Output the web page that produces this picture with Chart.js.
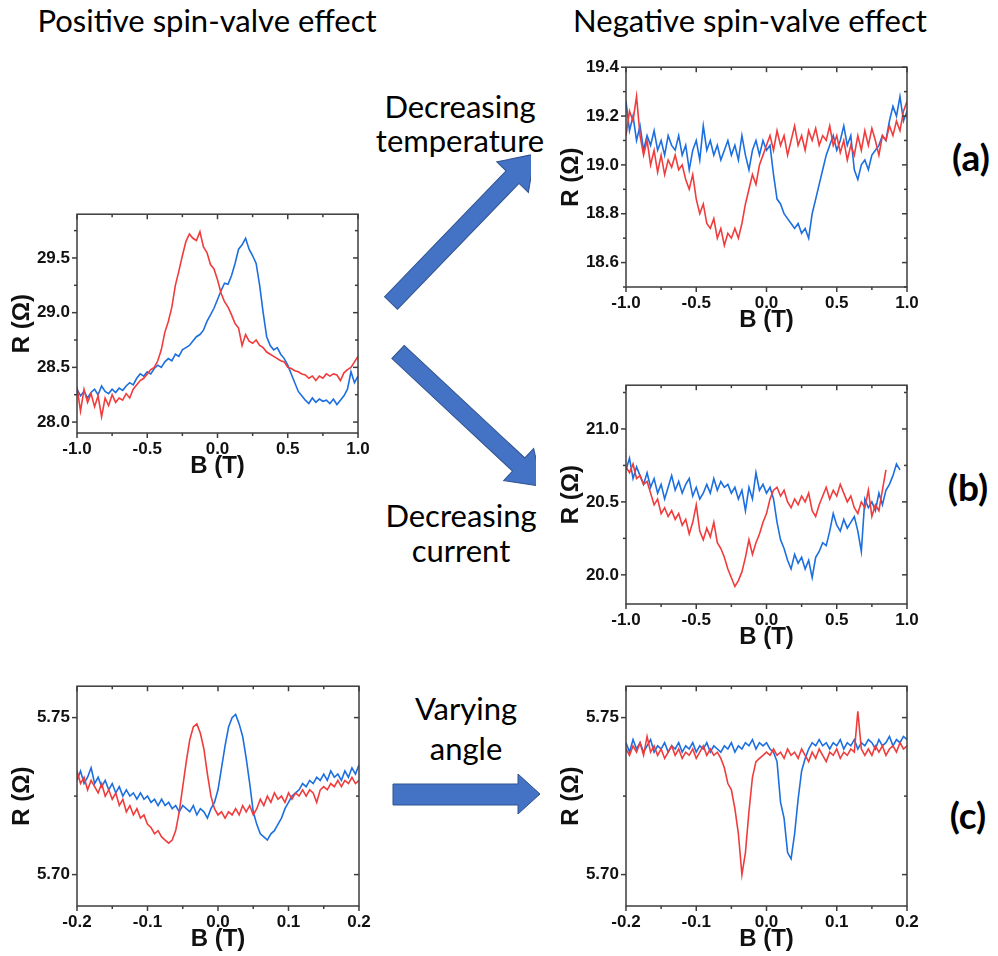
<!DOCTYPE html>
<html>
<head>
<meta charset="utf-8">
<script src="https://cdn.jsdelivr.net/npm/chart.js@4.4.1/dist/chart.umd.min.js"></script>
<style>
  html, body { margin: 0; padding: 0; background: #fff; }
  #page { position: relative; width: 998px; height: 956px; overflow: hidden; background: #fff; }
  canvas { position: absolute; }
  svg { position: absolute; left: 0; top: 0; }
  .txt { position: absolute; width: 400px; text-align: center; white-space: nowrap;
         font-family: Lato, "Open Sans", sans-serif; font-size: 31px; line-height: 31px; color: #000; }
  .tag { position: absolute; width: 80px; text-align: center; font-family: Lato, "Open Sans", sans-serif;
         font-weight: bold; font-size: 37px; line-height: 37px; color: #000; }
</style>
</head>
<body>
<div id="page">
  <svg width="998" height="956">
    <defs>
      <clipPath id="cutUp"><rect x="0" y="0" width="531" height="956"/></clipPath>
      <clipPath id="cutDown"><rect x="0" y="0" width="536" height="956"/></clipPath>
    </defs>
    <g fill="#4472C4" stroke="#2F528F" stroke-width="1">
      <g clip-path="url(#cutUp)">
        <polygon transform="translate(391,303) rotate(-46)" points="0,-9 175,-9 175,-22 207,0 175,22 175,9 0,9"/>
      </g>
      <g clip-path="url(#cutDown)">
        <polygon transform="translate(398,352) rotate(43)" points="0,-9 165,-9 165,-22 197,0 165,22 165,9 0,9"/>
      </g>
      <polygon points="393,784 518,784 518,774 540,794 518,814 518,805 393,805"/>
    </g>
  </svg>

  <div class="txt" style="left:7px; top:5px;">Positive spin-valve effect</div>
  <div class="txt" style="left:550px; top:5px;">Negative spin-valve effect</div>
  <div class="txt" style="left:260px; top:91px;">Decreasing</div>
  <div class="txt" style="left:260px; top:125px;">temperature</div>
  <div class="txt" style="left:261px; top:500px;">Decreasing</div>
  <div class="txt" style="left:261px; top:535px;">current</div>
  <div class="txt" style="left:266px; top:693px;">Varying</div>
  <div class="txt" style="left:266px; top:733px;">angle</div>
  <div class="tag" style="left:931px; top:138px;">(a)</div>
  <div class="tag" style="left:928px; top:468px;">(b)</div>
  <div class="tag" style="left:928px; top:796px;">(c)</div>

  <canvas id="pos"></canvas>
  <canvas id="negA"></canvas>
  <canvas id="negB"></canvas>
  <canvas id="posC"></canvas>
  <canvas id="negC"></canvas>
</div>

<script>
// ---------------------------------------------------------------- data
// field sweeps: wide panels -1..1 T (step 0.025), narrow panels -0.2..0.2 T (step 0.005)
const STEP_WIDE = 0.025;
const STEP_NARROW = 0.005;

const bTicksWide = [-1.0, -0.5, 0.0, 0.5, 1.0];
const bTicksNarrow = [-0.2, -0.1, 0.0, 0.1, 0.2];
const rTicksPos = [28.0, 28.5, 29.0, 29.5];
const rTicksA = [18.6, 18.8, 19.0, 19.2, 19.4];
const rTicksB = [20.0, 20.5, 21.0];
const rTicksC = [5.70, 5.75];

// positive spin-valve (top left)
const posRed = [
  28.32, 28.10, 28.30, 28.18, 28.26, 28.14, 28.24, 28.05, 28.22, 28.15,
  28.25, 28.18, 28.22, 28.20, 28.26, 28.22, 28.30, 28.34, 28.38, 28.40,
  28.44, 28.48, 28.50, 28.56, 28.66, 28.82, 28.92, 29.05, 29.25, 29.38,
  29.52, 29.65, 29.72, 29.68, 29.66, 29.74, 29.60, 29.55, 29.44, 29.40,
  29.30, 29.18, 29.10, 29.05, 28.98, 28.90, 28.86, 28.70, 28.80, 28.74,
  28.72, 28.75, 28.70, 28.68, 28.64, 28.62, 28.60, 28.58, 28.56, 28.55,
  28.50, 28.49, 28.47, 28.46, 28.44, 28.43, 28.40, 28.42, 28.38, 28.42,
  28.40, 28.44, 28.42, 28.44, 28.43, 28.38, 28.45, 28.48, 28.50, 28.55,
  28.60
];
const posBlue = [
  28.30, 28.24, 28.28, 28.22, 28.27, 28.30, 28.25, 28.33, 28.28, 28.26,
  28.30, 28.27, 28.31, 28.29, 28.33, 28.36, 28.34, 28.40, 28.44, 28.42,
  28.46, 28.44, 28.49, 28.52, 28.50, 28.55, 28.58, 28.56, 28.62, 28.60,
  28.66, 28.68, 28.70, 28.74, 28.78, 28.80, 28.84, 28.92, 28.98, 29.04,
  29.12, 29.20, 29.27, 29.26, 29.34, 29.45, 29.58, 29.62, 29.68, 29.58,
  29.52, 29.45, 29.25, 29.00, 28.78, 28.70, 28.66, 28.68, 28.62, 28.58,
  28.52, 28.44, 28.36, 28.28, 28.24, 28.20, 28.17, 28.22, 28.18, 28.21,
  28.19, 28.20, 28.17, 28.21, 28.16, 28.20, 28.24, 28.30, 28.46, 28.36,
  28.42
];

// (a) decreasing temperature
const aRed = [
  19.12, 19.22, 19.18, 19.28, 19.12, 19.04, 19.10, 19.00, 19.06, 18.97,
  19.04, 18.96, 19.02, 18.99, 19.04, 18.98, 19.00, 18.94, 18.90, 18.96,
  18.86, 18.80, 18.84, 18.76, 18.74, 18.78, 18.70, 18.74, 18.67, 18.72,
  18.70, 18.74, 18.70, 18.76, 18.84, 18.90, 18.96, 18.92, 19.00, 19.04,
  19.08, 19.12, 19.06, 19.14, 19.08, 19.12, 19.04, 19.10, 19.16, 19.08,
  19.12, 19.06, 19.14, 19.10, 19.15, 19.08, 19.12, 19.10, 19.16, 19.08,
  19.12, 19.05, 19.10, 19.02, 19.08, 19.04, 19.12, 19.06, 19.14, 19.08,
  19.15, 19.10, 19.04, 19.12, 19.10, 19.16, 19.12, 19.18, 19.14, 19.22,
  19.26
];
const aBlue = [
  19.26, 19.14, 19.20, 19.10, 19.16, 19.06, 19.12, 19.08, 19.14, 19.06,
  19.10, 19.04, 19.12, 19.08, 19.06, 19.12, 19.04, 19.08, 18.98, 19.06,
  19.10, 19.02, 19.16, 19.06, 19.10, 19.04, 19.08, 19.02, 19.06, 19.10,
  19.04, 19.08, 19.02, 19.12, 19.04, 18.98, 19.06, 19.10, 19.04, 19.10,
  19.06, 19.08, 18.96, 18.86, 18.84, 18.80, 18.78, 18.76, 18.74, 18.76,
  18.72, 18.74, 18.70, 18.80, 18.86, 18.92, 18.98, 19.04, 19.08, 19.12,
  19.06, 19.10, 19.16, 19.08, 19.12, 18.98, 18.94, 19.00, 19.02, 18.98,
  19.04, 19.06, 19.08, 19.12, 19.10, 19.18, 19.24, 19.20, 19.28, 19.18,
  19.22
];

// (b) decreasing current (red stops at 0.85 T, blue at 0.95 T)
const bRed = [
  20.74, 20.70, 20.76, 20.66, 20.68, 20.62, 20.64, 20.56, 20.48, 20.52,
  20.42, 20.46, 20.40, 20.44, 20.38, 20.42, 20.34, 20.38, 20.28, 20.36,
  20.48, 20.30, 20.24, 20.32, 20.26, 20.36, 20.22, 20.18, 20.12, 20.04,
  19.98, 19.92, 19.96, 20.02, 20.12, 20.24, 20.14, 20.22, 20.28, 20.36,
  20.42, 20.52, 20.58, 20.60, 20.54, 20.58, 20.50, 20.46, 20.52, 20.48,
  20.54, 20.50, 20.56, 20.44, 20.40, 20.48, 20.54, 20.60, 20.52, 20.58,
  20.54, 20.62, 20.56, 20.50, 20.54, 20.46, 20.42, 20.50, 20.46, 20.58,
  20.40, 20.48, 20.44, 20.58, 20.72
];
const bBlue = [
  20.72, 20.80, 20.66, 20.74, 20.68, 20.62, 20.70, 20.60, 20.66, 20.56,
  20.62, 20.52, 20.60, 20.68, 20.58, 20.64, 20.56, 20.62, 20.66, 20.54,
  20.60, 20.52, 20.56, 20.62, 20.56, 20.66, 20.58, 20.64, 20.60, 20.62,
  20.56, 20.60, 20.52, 20.58, 20.44, 20.60, 20.52, 20.70, 20.58, 20.62,
  20.56, 20.60, 20.52, 20.36, 20.24, 20.18, 20.10, 20.04, 20.14, 20.08,
  20.12, 20.04, 20.10, 19.98, 20.12, 20.16, 20.22, 20.20, 20.30, 20.42,
  20.34, 20.30, 20.38, 20.32, 20.36, 20.40, 20.30, 20.16, 20.52, 20.46,
  20.50, 20.44, 20.56, 20.48, 20.58, 20.62, 20.68, 20.76, 20.72
];

// (c) varying angle, positive (bottom left)
const cPosRed = [
  5.733, 5.729, 5.731, 5.727, 5.730, 5.728, 5.726, 5.729, 5.725, 5.727,
  5.724, 5.726, 5.722, 5.724, 5.720, 5.722, 5.719, 5.721, 5.718, 5.719,
  5.716, 5.715, 5.713, 5.714, 5.712, 5.711, 5.710, 5.711, 5.714, 5.720,
  5.728, 5.736, 5.743, 5.747, 5.748, 5.745, 5.740, 5.732, 5.725, 5.721,
  5.719, 5.720, 5.718, 5.720, 5.719, 5.721, 5.719, 5.722, 5.720, 5.722,
  5.719, 5.721, 5.724, 5.722, 5.725, 5.723, 5.726, 5.724, 5.725, 5.723,
  5.726, 5.724, 5.726, 5.725, 5.727, 5.725, 5.727, 5.726, 5.723, 5.727,
  5.728, 5.727, 5.729, 5.728, 5.730, 5.728, 5.730, 5.729, 5.731, 5.729,
  5.730
];
const cPosBlue = [
  5.730, 5.733, 5.729, 5.731, 5.734, 5.729, 5.731, 5.728, 5.730, 5.727,
  5.729, 5.726, 5.728, 5.725, 5.727, 5.725, 5.726, 5.724, 5.726, 5.724,
  5.725, 5.723, 5.724, 5.722, 5.724, 5.722, 5.723, 5.721, 5.722, 5.720,
  5.722, 5.721, 5.720, 5.722, 5.719, 5.721, 5.720, 5.718, 5.721, 5.723,
  5.727, 5.734, 5.741, 5.747, 5.750, 5.751, 5.748, 5.744, 5.737, 5.729,
  5.720, 5.716, 5.713, 5.712, 5.711, 5.713, 5.714, 5.716, 5.718, 5.721,
  5.723, 5.725, 5.726, 5.727, 5.729, 5.728, 5.730, 5.729, 5.731, 5.730,
  5.732, 5.730, 5.733, 5.731, 5.732, 5.730, 5.733, 5.731, 5.734, 5.732,
  5.735
];

// (c) varying angle, negative (bottom right)
const cNegRed = [
  5.740, 5.738, 5.741, 5.739, 5.742, 5.738, 5.744, 5.739, 5.741, 5.738,
  5.740, 5.737, 5.739, 5.741, 5.738, 5.740, 5.737, 5.739, 5.738, 5.740,
  5.737, 5.739, 5.741, 5.738, 5.740, 5.738, 5.739, 5.737, 5.734, 5.729,
  5.727, 5.721, 5.713, 5.700, 5.707, 5.720, 5.731, 5.736, 5.737, 5.738,
  5.739, 5.738, 5.740, 5.738, 5.739, 5.737, 5.740, 5.738, 5.739, 5.737,
  5.740, 5.738, 5.736, 5.739, 5.737, 5.740, 5.738, 5.736, 5.739, 5.738,
  5.740, 5.737, 5.739, 5.738, 5.740, 5.739, 5.752, 5.740, 5.738, 5.740,
  5.738, 5.741, 5.739, 5.741, 5.738, 5.740, 5.741, 5.739, 5.742, 5.740,
  5.741
];
const cNegBlue = [
  5.742, 5.739, 5.743, 5.740, 5.742, 5.739, 5.741, 5.743, 5.739, 5.741,
  5.740, 5.742, 5.739, 5.741, 5.740, 5.742, 5.739, 5.741, 5.740, 5.742,
  5.739, 5.741, 5.740, 5.742, 5.739, 5.741, 5.740, 5.739, 5.741, 5.740,
  5.742, 5.739, 5.741, 5.740, 5.742, 5.741, 5.743, 5.740, 5.742, 5.741,
  5.742, 5.740, 5.739, 5.736, 5.723, 5.718, 5.707, 5.705, 5.713, 5.724,
  5.733, 5.737, 5.740, 5.742, 5.741, 5.743, 5.741, 5.742, 5.740, 5.742,
  5.741, 5.743, 5.740, 5.742, 5.741, 5.743, 5.740, 5.742, 5.741, 5.743,
  5.742, 5.740, 5.743, 5.741, 5.742, 5.744, 5.741, 5.743, 5.742, 5.744,
  5.743
];

// ---------------------------------------------------------------- helpers
const RED = "#f03c3c";
const BLUE = "#1c6fe0";
const AXIS = "#3c3c3c";
const TICK_FONT = { family: "'Liberation Sans', Arial, sans-serif", weight: "bold", size: 17 };
const TITLE_FONT = { family: "'Liberation Sans', Arial, sans-serif", weight: "bold", size: 24 };

function toPoints(start, step, values) {
  return values.map((v, i) => ({ x: Math.round((start + i * step) * 1e4) / 1e4, y: v }));
}

function minorTicks(min, max, step, majors) {
  const out = [];
  for (let k = Math.ceil(min / step - 1e-6); k * step <= max + 1e-9; k++) {
    const v = Math.round(k * step * 1e4) / 1e4;
    if (!majors.some(m => Math.abs(m - v) < 1e-6)) out.push(v);
  }
  return out;
}

// Origin-style frame: box on all sides, ticks out on bottom/left, in on top/right
const framePlugin = {
  id: "frame",
  afterDatasetsDraw(chart, args, opts) {
    const { ctx, chartArea: a, scales: { x, y } } = chart;
    const line = (x1, y1, x2, y2) => { ctx.beginPath(); ctx.moveTo(x1, y1); ctx.lineTo(x2, y2); ctx.stroke(); };
    ctx.save();
    ctx.strokeStyle = AXIS;
    ctx.lineWidth = 1.5;
    ctx.strokeRect(a.left, a.top, a.width, a.height);
    const xs = [[opts.xMajor, 5], [opts.xMinor, 3]];
    xs.forEach(([vals, len]) => vals.forEach(v => {
      const px = x.getPixelForValue(v);
      line(px, a.bottom, px, a.bottom + len);
      line(px, a.top, px, a.top + len);
    }));
    const ys = [[opts.yMajor, 5], [opts.yMinor, 3]];
    ys.forEach(([vals, len]) => vals.forEach(v => {
      const py = y.getPixelForValue(v);
      line(a.left, py, a.left - len, py);
      line(a.right, py, a.right - len, py);
    }));
    ctx.restore();
  }
};
Chart.register(framePlugin);

function panel(id, box, p) {
  const LEFT = 77, TOP = 10, RIGHT = 30, BOTTOM = 50;
  const el = document.getElementById(id);
  el.width = LEFT + box.w + RIGHT;
  el.height = TOP + box.h + BOTTOM;
  el.style.left = (box.x - LEFT) + "px";
  el.style.top = (box.y - TOP) + "px";

  return new Chart(el, {
    type: "line",
    data: {
      datasets: [
        { data: toPoints(p.xMin, p.step, p.red), borderColor: RED },
        { data: toPoints(p.xMin, p.step, p.blue), borderColor: BLUE }
      ]
    },
    options: {
      responsive: false,
      animation: false,
      events: [],
      layout: { padding: { top: TOP, right: RIGHT, left: 0, bottom: 0 } },
      elements: { point: { radius: 0 }, line: { borderWidth: 1.6, tension: 0 } },
      plugins: {
        legend: { display: false },
        tooltip: { enabled: false },
        frame: {
          xMajor: p.xTicks, xMinor: minorTicks(p.xMin, p.xMax, p.xMinor, p.xTicks),
          yMajor: p.yTicks, yMinor: minorTicks(p.yMin, p.yMax, p.yMinor, p.yTicks)
        }
      },
      scales: {
        x: {
          type: "linear", min: p.xMin, max: p.xMax,
          grid: { display: false, drawTicks: false },
          border: { display: false },
          afterBuildTicks: s => { s.ticks = p.xTicks.map(v => ({ value: v })); },
          afterFit: s => { s.height = BOTTOM; },
          ticks: { padding: 6, color: "#111", font: TICK_FONT, maxRotation: 0, callback: v => v.toFixed(1) },
          title: { display: true, text: "B (T)", color: "#111", font: TITLE_FONT, padding: { top: 0, bottom: 2 } }
        },
        y: {
          type: "linear", min: p.yMin, max: p.yMax,
          grid: { display: false, drawTicks: false },
          border: { display: false },
          afterBuildTicks: s => { s.ticks = p.yTicks.map(v => ({ value: v })); },
          afterFit: s => { s.width = LEFT; },
          ticks: { padding: 7, color: "#111", font: TICK_FONT, callback: v => v.toFixed(p.yDigits) },
          title: { display: true, text: "R (\u03A9)", color: "#111", font: TITLE_FONT, padding: { top: 8, bottom: 0 } }
        }
      }
    }
  });
}

// ---------------------------------------------------------------- panels
panel("pos", { x: 77, y: 207, w: 281, h: 226 }, {
  xMin: -1, xMax: 1, step: STEP_WIDE, xTicks: bTicksWide, xMinor: 0.25,
  yMin: 27.9, yMax: 29.9, yTicks: rTicksPos, yMinor: 0.25, yDigits: 1,
  red: posRed, blue: posBlue
});
panel("negA", { x: 626, y: 60, w: 281, h: 227 }, {
  xMin: -1, xMax: 1, step: STEP_WIDE, xTicks: bTicksWide, xMinor: 0.25,
  yMin: 18.5, yMax: 19.4, yTicks: rTicksA, yMinor: 0.1, yDigits: 1,
  red: aRed, blue: aBlue
});
panel("negB", { x: 626, y: 378, w: 281, h: 226 }, {
  xMin: -1, xMax: 1, step: STEP_WIDE, xTicks: bTicksWide, xMinor: 0.25,
  yMin: 19.8, yMax: 21.3, yTicks: rTicksB, yMinor: 0.25, yDigits: 1,
  red: bRed, blue: bBlue
});
panel("posC", { x: 77, y: 679, w: 282, h: 227 }, {
  xMin: -0.2, xMax: 0.2, step: STEP_NARROW, xTicks: bTicksNarrow, xMinor: 0.05,
  yMin: 5.69, yMax: 5.76, yTicks: rTicksC, yMinor: 0.025, yDigits: 2,
  red: cPosRed, blue: cPosBlue
});
panel("negC", { x: 626, y: 679, w: 281, h: 227 }, {
  xMin: -0.2, xMax: 0.2, step: STEP_NARROW, xTicks: bTicksNarrow, xMinor: 0.05,
  yMin: 5.69, yMax: 5.76, yTicks: rTicksC, yMinor: 0.025, yDigits: 2,
  red: cNegRed, blue: cNegBlue
});
</script>
</body>
</html>
